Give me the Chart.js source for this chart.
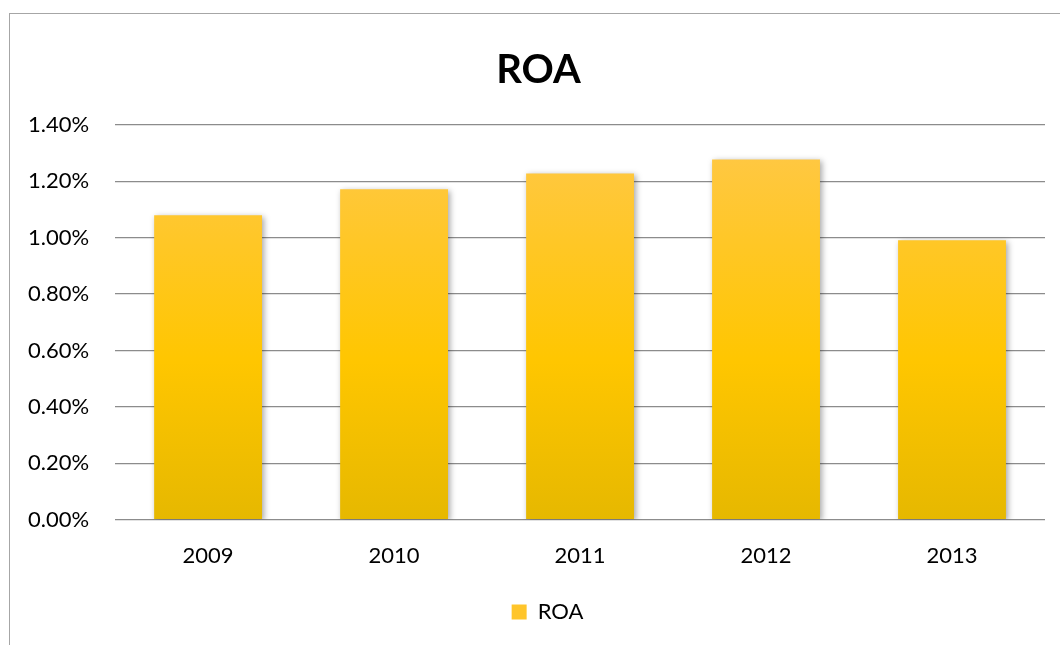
<!DOCTYPE html>
<html>
<head>
<meta charset="utf-8">
<script src="https://cdn.jsdelivr.net/npm/chart.js@4.4.0/dist/chart.umd.min.js"></script>
<style>
    html, body { margin: 0; padding: 0; background: #fff; }
    #frame { position: absolute; left: 9px; top: 13px; width: 1100px; height: 700px;
             border-left: 1px solid #a6a6a6; border-top: 1px solid #a6a6a6; }
    #wrap { position: absolute; left: 0; top: 0; width: 1060px; height: 645px; }
</style>
</head>
<body>
<div id="frame"></div>
<div id="wrap"><canvas id="roaChart" width="1060" height="645"></canvas></div>
<script>
    const years = ['2009', '2010', '2011', '2012', '2013'];
    const roaValues = [1.08, 1.172, 1.228, 1.278, 0.991];
    const yTicks = [0, 0.2, 0.4, 0.6, 0.8, 1.0, 1.2, 1.4];

    const FONT = 'Lato, "Open Sans", sans-serif';

    function barGradient(context) {
        const area = context.chart.chartArea;
        if (!area) return '#FFC600';
        const g = context.chart.ctx.createLinearGradient(0, area.top, 0, area.bottom);
        g.addColorStop(0, '#FFC84C');
        g.addColorStop(0.6, '#FFC600');
        g.addColorStop(1, '#E6B800');
        return g;
    }

    // soft shadow under the bars
    const shadowPlugin = {
        id: 'barShadow',
        afterLayout(chart) {
            // title and legend sit a bit right of the canvas centre
            if (chart.titleBlock) chart.titleBlock.left += 30;
            if (chart.legend) {
                chart.legend.left += 24;
                chart.legend.right += 24;
                chart.legend.legendHitBoxes.forEach(b => { b.left += 24; });
            }
        },
        beforeDatasetsDraw(chart) {
            const c = chart.ctx;
            c.save();
            c.shadowColor = 'rgba(0,0,0,0.35)';
            c.shadowBlur = 6;
            c.shadowOffsetX = 2;
            c.shadowOffsetY = 2;
        },
        afterDatasetsDraw(chart) {
            chart.ctx.restore();
        }
    };

    const ctx = document.getElementById('roaChart').getContext('2d');
    const roaChart = new Chart(ctx, {
        type: 'bar',
        data: {
            labels: years,
            datasets: [{
                label: 'ROA',
                data: roaValues,
                backgroundColor: barGradient,
                borderWidth: 0,
                categoryPercentage: 0.58,
                barPercentage: 1.0
            }]
        },
        options: {
            responsive: false,
            animation: false,
            layout: { padding: { left: 2, right: 15, top: 46, bottom: 12 } },
            plugins: {
                title: {
                    display: true,
                    text: 'ROA',
                    color: '#000',
                    font: { family: FONT, size: 40, weight: 'bold' },
                    padding: { top: 0, bottom: 31 }
                },
                legend: {
                    position: 'bottom',
                    labels: {
                        color: '#000',
                        font: { family: FONT, size: 22 },
                        boxWidth: 15,
                        boxHeight: 15,
                        padding: 17,
                        generateLabels(chart) {
                            return [{
                                text: 'ROA',
                                fillStyle: '#FFC52A',
                                strokeStyle: '#FFC52A',
                                lineWidth: 0,
                                datasetIndex: 0
                            }];
                        }
                    }
                },
                tooltip: { enabled: false }
            },
            scales: {
                x: {
                    grid: { display: false },
                    border: { display: false },
                    ticks: { color: '#000', font: { family: FONT, size: 22 }, padding: 15 }
                },
                y: {
                    min: 0,
                    max: 1.4,
                    afterBuildTicks(axis) {
                        axis.ticks = yTicks.map(v => ({ value: v }));
                    },
                    grid: { color: '#8c8c8c', lineWidth: 1.3, drawTicks: false },
                    border: { display: false },
                    ticks: {
                        color: '#000',
                        font: { family: FONT, size: 22 },
                        padding: 26,
                        callback: v => v.toFixed(2) + '%'
                    }
                }
            }
        },
        plugins: [shadowPlugin]
    });
</script>
</body>
</html>
